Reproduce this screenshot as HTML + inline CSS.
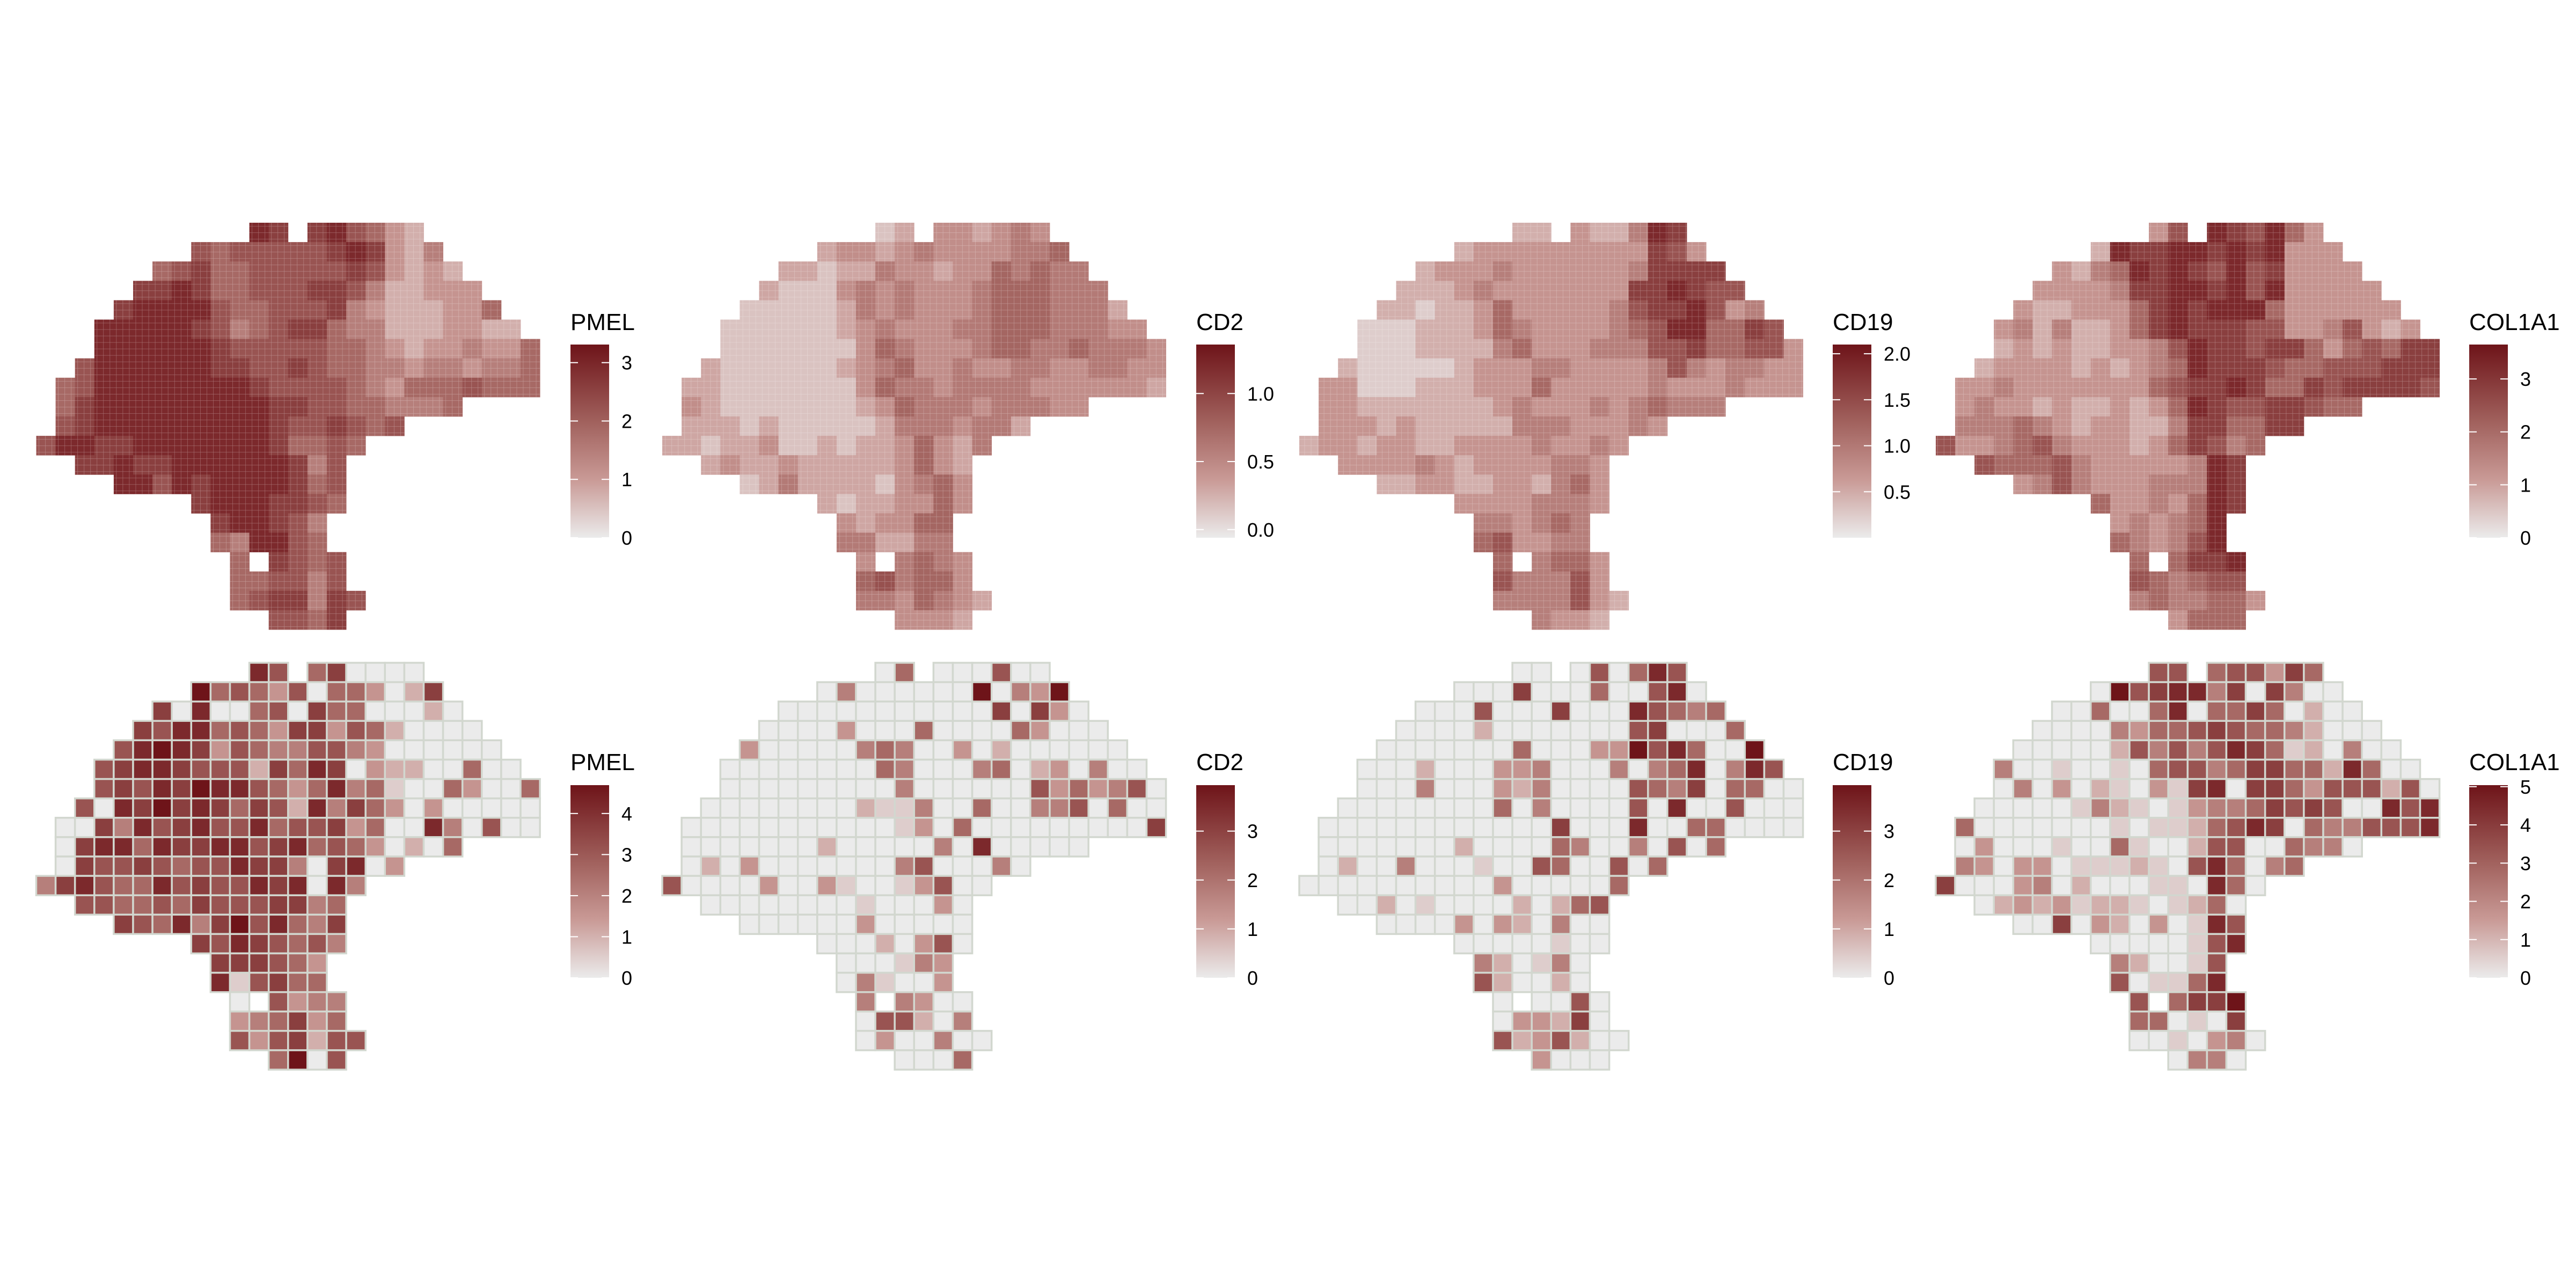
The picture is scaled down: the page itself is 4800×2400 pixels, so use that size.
<!DOCTYPE html>
<html>
<head>
<meta charset="utf-8">
<style>
html,body{margin:0;padding:0;background:#fff;}
svg{display:block;font-family:"Liberation Sans",Arial,sans-serif;}
</style>
</head>
<body>
<svg id="chart" width="4800" height="2400" viewBox="0 0 4800 2400" xmlns="http://www.w3.org/2000/svg">
<defs>
<pattern id="subgrid" patternUnits="userSpaceOnUse" width="12.033" height="12.033">
<path d="M0 0 H12.033 M0 0 V12.033" stroke="#ffffff" stroke-opacity="0.35" stroke-width="1.2" fill="none"/>
</pattern>
</defs>
<rect x="0" y="0" width="4800" height="2400" fill="#ffffff"/>
</svg>
<script>
// ---- tissue layout (columns present in each grid row) ----
const MASK = ["11-12,14-19","8-20","6-21","5-22","4-23","3-24","3-25","2-25","1-25","1-21","1-18","0-16","2-15","4-15","8-15","9-14","9-14","10,12-15","10-15","10-16","12-15"];

// ---- gene names ----
const GENES = ["PMEL","CD2","CD19","COL1A1"];

// ---- expression levels (0-9 fraction of scale max), one string per grid row ----
const TOP_PMEL = ["87786532","6566666787324","5675566666763232","778755666776422333","78888655666743222335","8888876456775442223322","88888876666655432334335","688888877667655443443445","5688888888766665435556555","578888888887766554445","678888888887667656","68877888888875565","77877888888746","886878888756","78887765","788764","548865","57656","556646","5677476","6657"];
const TOP_CD2 = ["12332343","2332343333445","2212243323354544","211134343334555444","11111243433345554442","1111112343334455544433","11111113543334554454443","211111123453343344334433","2211111113544344443333332","321111111235444344433","222121111124443442","22122311212235324","23223222223532","124222213453","21223353","323355","442244","34543","564553","4435432","3332"];
const TOP_CD19 = ["22322487","2333333333763","2333433333347777","222343333333778766","22122353333346778634","1112223543333456885576","11122224533344466755663","211111233344333346434433","3311122233353333343334333","332222222343334345444","333232222244433343","23323322333343343","33334323333443","223322332453","33334443","443454","563344","54553","644463","4444632","4332"];
const TOP_COL1A1 = ["36876853","2877887878333","3245878768673333","333347788786833333","32233357878885333333","3424223578777663346323","23232233468776775356577","233332323458777655666777","3343333333567787557677776","343323223235876677655","444543233224775577","63345643332357645","65556433333487","346433344487","53343587","343458","543468","55778","654566","4544553","3555"];

const BOT_PMEL = ["86570000","9565360553027","7080056075500020","768856537736520000","68987365446643000000","6788766627587032200500","67687988653584510053005","608797875762847530300000","0074867866856673500840600","078858778867856530205","076676566877407803","47865586766878084","66556576667745","765847968547","76876564","777653","816755","06344","345735","6367266","5906"];
const BOT_CD2 = ["05000600","0400000090439","0000000000070730","000030005000053000","30000045400302000000","0000000054000450230400","00000000040000006353460","000000002114005004460500","0000000000013050000000007","000000020000040800000","020300000004600040","60000300310013600","00000000100030","000000300000","00020360","000143","041003","44300","066204","0300400","0005"];
const BOT_CD19 = ["00060586","0007000500680","0006000700086545","000020000000670005","00000005000339685009","0002000334000404580486","00040003240000654705500","000000005040000608006000","0000000000007000800550000","000000020000540040605","020040001006500605","00000000003000005","00201000020256","000030320400","00000100","420140","620020","00060","033270","6236200","3000"];
const BOT_COL1A1 = ["66566375","0967884707400","0050058055750200","000043556765542000","00000264646875120400","4001001056645775528500","04030210317807753666260","000001421013445767600868","5000000010112568705446668","030001005100266005440","430330111210685045","70003402000110850","02323122101250","007032030186","00000168","420016","601158","65779","550107","0010340","0440"];

// ---- colour-scale limits and tick labels ----
const TOP_LO = [0, -0.06, 0, 0];
const TOP_HI = [3.31, 1.36, 2.1, 3.65];
const TOP_TICKS = [[0,1,2,3],[0,0.5,1.0],[0.5,1.0,1.5,2.0],[0,1,2,3]];
const TOP_TICK_LABELS = [["0","1","2","3"],["0.0","0.5","1.0"],["0.5","1.0","1.5","2.0"],["0","1","2","3"]];
const BOT_LO = [0, 0, 0, 0];
const BOT_HI = [4.69, 3.94, 3.94, 5.04];
const BOT_TICKS = [[0,1,2,3,4],[0,1,2,3],[0,1,2,3],[0,1,2,3,4,5]];
const BOT_TICK_LABELS = [["0","1","2","3","4"],["0","1","2","3"],["0","1","2","3"],["0","1","2","3","4","5"]];

// ---- layout ----
const NS = "http://www.w3.org/2000/svg";
const svg = document.getElementById("chart");
const CELL = 36.1;
const PANEL_X = [67.5, 1234, 2421, 3607];
const ROW_Y = [415, 1235];
const BAR_X = [1063, 2229, 3415, 4601];
const BAR_TOP = [642, 1463];
const BAR_H = [360, 359];
const BAR_W = 72;
const TITLE_Y = [615, 1435];

const STOPS = [[0,[235,235,235]],[0.3,[201,154,150]],[0.6,[161,97,93]],[1,[110,20,25]]];
function colorAt(t){
  t = Math.max(0, Math.min(1, t));
  for (let i = 1; i < STOPS.length; i++) {
    if (t <= STOPS[i][0]) {
      const a = STOPS[i-1], b = STOPS[i];
      const f = (t - a[0]) / (b[0] - a[0]);
      const c = a[1].map((v, k) => Math.round(v + (b[1][k] - v) * f));
      return "rgb(" + c.join(",") + ")";
    }
  }
  return "rgb(110,20,25)";
}
function expandMask(spec){
  const cols = [];
  spec.split(",").forEach(p => {
    const r = p.split("-").map(Number);
    if (r.length === 1) cols.push(r[0]); else for (let c = r[0]; c <= r[1]; c++) cols.push(c);
  });
  return cols;
}
const MASK_COLS = MASK.map(expandMask);
function xScale(panel, col){ return PANEL_X[panel] + col * CELL; }
function yScale(row, r){ return ROW_Y[row] + r * CELL; }
function mk(tag, attrs){
  const el = document.createElementNS(NS, tag);
  for (const k in attrs) el.setAttribute(k, attrs[k]);
  return el;
}

const TOP_DATA = [TOP_PMEL, TOP_CD2, TOP_CD19, TOP_COL1A1];
const BOT_DATA = [BOT_PMEL, BOT_CD2, BOT_CD19, BOT_COL1A1];

function drawPanel(row, p){
  const data = row === 0 ? TOP_DATA[p] : BOT_DATA[p];
  const lo = row === 0 ? TOP_LO[p] : BOT_LO[p];
  const hi = row === 0 ? TOP_HI[p] : BOT_HI[p];
  const g = mk("g", {});
  
  
  svg.appendChild(g);
  for (let r = 0; r < MASK_COLS.length; r++) {
    const cols = MASK_COLS[r];
    const vals = data[r];
    for (let i = 0; i < cols.length; i++) {
      const lvl = Number(vals[i] || 0);
      const v = lvl / 9 * hi;
      const t = (v - lo) / (hi - lo);
      const x = xScale(p, cols[i]), y = yScale(row, r);
      const rect = mk("rect", {x: x, y: y, width: CELL + (row === 0 ? 0.4 : 0), height: CELL + (row === 0 ? 0.4 : 0), fill: colorAt(t)});
      if (row === 1) { rect.setAttribute("stroke", "#d2d7cf"); rect.setAttribute("stroke-width", "3.5"); }
      
      
      g.appendChild(rect);
      if (row === 0) {
        const ov = mk("rect", {x: x, y: y, width: CELL, height: CELL, fill: "url(#subgrid)"});
        
        
        g.appendChild(ov);
      }
    }
  }
}

function drawLegend(row, p){
  const lo = row === 0 ? TOP_LO[p] : BOT_LO[p];
  const hi = row === 0 ? TOP_HI[p] : BOT_HI[p];
  const ticks = row === 0 ? TOP_TICKS[p] : BOT_TICKS[p];
  const labels = row === 0 ? TOP_TICK_LABELS[p] : BOT_TICK_LABELS[p];
  const bx = BAR_X[p], by = BAR_TOP[row], bh = BAR_H[row];
  const g = mk("g", {});
  
  
  svg.appendChild(g);
  const gid = "grad" + row + "_" + p;
  const grad = mk("linearGradient", {id: gid, x1: "0", y1: "1", x2: "0", y2: "0"});
  STOPS.forEach(s => grad.appendChild(mk("stop", {offset: s[0], "stop-color": colorAt(s[0])})));
  svg.querySelector("defs").appendChild(grad);
  const title = mk("text", {x: bx, y: TITLE_Y[row], "font-size": 44, fill: "#000"});
  title.textContent = GENES[p];
  
  
  g.appendChild(title);
  const bar = mk("rect", {x: bx, y: by, width: BAR_W, height: bh, fill: "url(#" + gid + ")"});
  
  
  g.appendChild(bar);
  ticks.forEach((tv, i) => {
    const y = by + bh - (tv - lo) / (hi - lo) * bh;
    const t1 = mk("line", {x1: bx, x2: bx + 14, y1: y, y2: y, stroke: "#ffffff", "stroke-width": 2});
    
    
    g.appendChild(t1);
    const t2 = mk("line", {x1: bx + BAR_W - 14, x2: bx + BAR_W, y1: y, y2: y, stroke: "#ffffff", "stroke-width": 2});
    
    
    g.appendChild(t2);
    const lab = mk("text", {x: bx + BAR_W + 23, y: y + 13, "font-size": 36, fill: "#000"});
    lab.textContent = labels[i];
    
    
    g.appendChild(lab);
  });
}

for (let row = 0; row < 2; row++) {
  for (let p = 0; p < 4; p++) { drawPanel(row, p); drawLegend(row, p); }
}
</script>
</body>
</html>
